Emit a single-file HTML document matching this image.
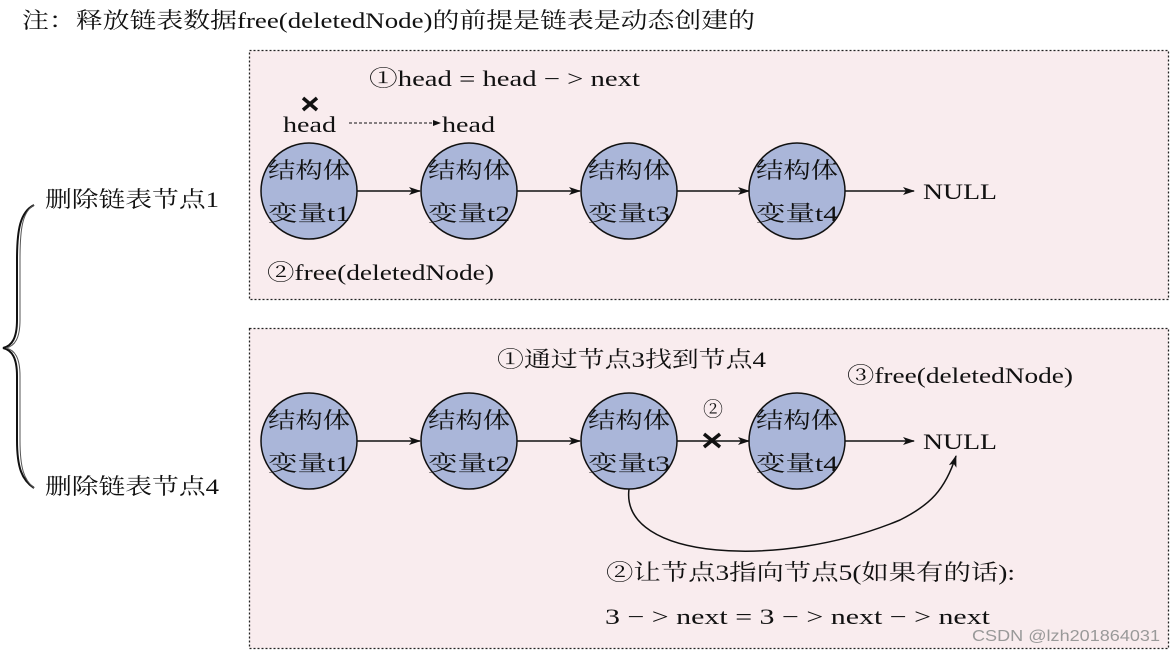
<!DOCTYPE html>
<html><head><meta charset="utf-8"><style>
html,body{margin:0;padding:0;background:#fff;}
svg{display:block;}
text{font-family:"Liberation Serif","Noto Serif CJK SC",serif;fill:#111;}
</style></head><body>
<svg width="1174" height="653" viewBox="0 0 1174 653" xmlns="http://www.w3.org/2000/svg">
<defs>
<marker id="a" markerWidth="12" markerHeight="8" refX="11" refY="4" orient="auto" markerUnits="userSpaceOnUse">
<path d="M0,0 L12,4 L0,8 L3,4 Z" fill="#111"/></marker>
<marker id="s" markerWidth="8" markerHeight="6" refX="7" refY="3" orient="auto" markerUnits="userSpaceOnUse">
<path d="M0,0 L8,3 L0,6 Z" fill="#111"/></marker>
</defs>
<text x="22" y="28" font-size="22" textLength="733" lengthAdjust="spacingAndGlyphs">注：释放链表数据free(deletedNode)的前提是链表是动态创建的</text>

<rect x="249.5" y="50.5" width="919" height="249" fill="#f9ecee" stroke="#222" stroke-width="1.3" stroke-dasharray="2,2"/>
<rect x="249.5" y="328.5" width="919" height="320" fill="#f9ecee" stroke="#222" stroke-width="1.3" stroke-dasharray="2,2"/>

<!-- brace -->
<path d="M34,205 C20,212 17,230 17,260 L17,320 C17,338 12,346 3,348 C12,350 17,358 17,376 L17,440 C17,468 22,480 34,488" fill="none" stroke="#111" stroke-width="2"/>
<path d="M34,205 C22,212 20,230 20,260 L20,320 C20,338 15,346 6,348 C15,350 20,358 20,376 L20,440 C20,468 24,480 34,488" fill="none" stroke="#555" stroke-width="1"/>
<text x="45" y="207" font-size="22" textLength="174" lengthAdjust="spacingAndGlyphs">删除链表节点1</text>
<text x="45" y="494" font-size="22" textLength="174" lengthAdjust="spacingAndGlyphs">删除链表节点4</text>

<!-- top row -->
<text x="369" y="86" font-size="22" textLength="271" lengthAdjust="spacingAndGlyphs">①head = head − &gt; next</text>
<path d="M303,98 L317,110 M317,98 L303,110" stroke="#111" stroke-width="3.5"/>
<text x="283" y="132" font-size="22" textLength="53" lengthAdjust="spacingAndGlyphs">head</text>
<line x1="349" y1="123" x2="440" y2="123" stroke="#111" stroke-width="1" stroke-dasharray="3,2" marker-end="url(#s)"/>
<text x="442" y="132" font-size="22" textLength="53" lengthAdjust="spacingAndGlyphs">head</text>

<g stroke="#111" stroke-width="1.5" fill="#aab6d9">
<circle cx="309" cy="191" r="48"/><circle cx="469" cy="191" r="48"/>
<circle cx="629" cy="191" r="48"/><circle cx="797" cy="191" r="48"/>
<circle cx="309" cy="441" r="48"/><circle cx="469" cy="441" r="48"/>
<circle cx="629" cy="441" r="48"/><circle cx="797" cy="441" r="48"/>
</g>
<g stroke="#111" stroke-width="1.5" marker-end="url(#a)">
<line x1="357" y1="191" x2="420" y2="191"/><line x1="517" y1="191" x2="580" y2="191"/>
<line x1="677" y1="191" x2="749" y2="191"/><line x1="845" y1="191" x2="914" y2="191"/>
<line x1="357" y1="441" x2="420" y2="441"/><line x1="517" y1="441" x2="580" y2="441"/>
<line x1="677" y1="441" x2="749" y2="441"/><line x1="845" y1="441" x2="914" y2="441"/>
</g>
<g font-size="22" lengthAdjust="spacingAndGlyphs">
<text x="268" y="178" textLength="82" lengthAdjust="spacingAndGlyphs">结构体</text><text x="268" y="221" textLength="82" lengthAdjust="spacingAndGlyphs">变量t1</text>
<text x="428" y="178" textLength="82" lengthAdjust="spacingAndGlyphs">结构体</text><text x="428" y="221" textLength="82" lengthAdjust="spacingAndGlyphs">变量t2</text>
<text x="588" y="178" textLength="82" lengthAdjust="spacingAndGlyphs">结构体</text><text x="588" y="221" textLength="82" lengthAdjust="spacingAndGlyphs">变量t3</text>
<text x="756" y="178" textLength="82" lengthAdjust="spacingAndGlyphs">结构体</text><text x="756" y="221" textLength="82" lengthAdjust="spacingAndGlyphs">变量t4</text>
<text x="268" y="428" textLength="82" lengthAdjust="spacingAndGlyphs">结构体</text><text x="268" y="471" textLength="82" lengthAdjust="spacingAndGlyphs">变量t1</text>
<text x="428" y="428" textLength="82" lengthAdjust="spacingAndGlyphs">结构体</text><text x="428" y="471" textLength="82" lengthAdjust="spacingAndGlyphs">变量t2</text>
<text x="588" y="428" textLength="82" lengthAdjust="spacingAndGlyphs">结构体</text><text x="588" y="471" textLength="82" lengthAdjust="spacingAndGlyphs">变量t3</text>
<text x="756" y="428" textLength="82" lengthAdjust="spacingAndGlyphs">结构体</text><text x="756" y="471" textLength="82" lengthAdjust="spacingAndGlyphs">变量t4</text>
<text x="923" y="199" textLength="74" lengthAdjust="spacingAndGlyphs">NULL</text>
<text x="923" y="449" textLength="74" lengthAdjust="spacingAndGlyphs">NULL</text>
<text x="267" y="280" textLength="227" lengthAdjust="spacingAndGlyphs">②free(deletedNode)</text>
<text x="497" y="367" textLength="269" lengthAdjust="spacingAndGlyphs">①通过节点3找到节点4</text>
<text x="847" y="383" textLength="226" lengthAdjust="spacingAndGlyphs">③free(deletedNode)</text>
<text x="606" y="580" textLength="409" lengthAdjust="spacingAndGlyphs">②让节点3指向节点5(如果有的话):</text>
<text x="605" y="624" textLength="385" lengthAdjust="spacingAndGlyphs">3 − &gt; next = 3 − &gt; next − &gt; next</text>
</g>
<text x="703" y="416" font-size="20">②</text>
<path d="M704,434 L720,447 M720,434 L704,447" stroke="#111" stroke-width="3.5"/>
<path d="M629,489 C620,560 780,570 900,520 C930,505 945,490 956,456" fill="none" stroke="#111" stroke-width="1.5" marker-end="url(#a)"/>
<text x="972" y="641" font-size="16" textLength="188" lengthAdjust="spacingAndGlyphs" style="fill:#999;font-family:'Liberation Sans',sans-serif">CSDN @lzh201864031</text>
</svg>
</body></html>
